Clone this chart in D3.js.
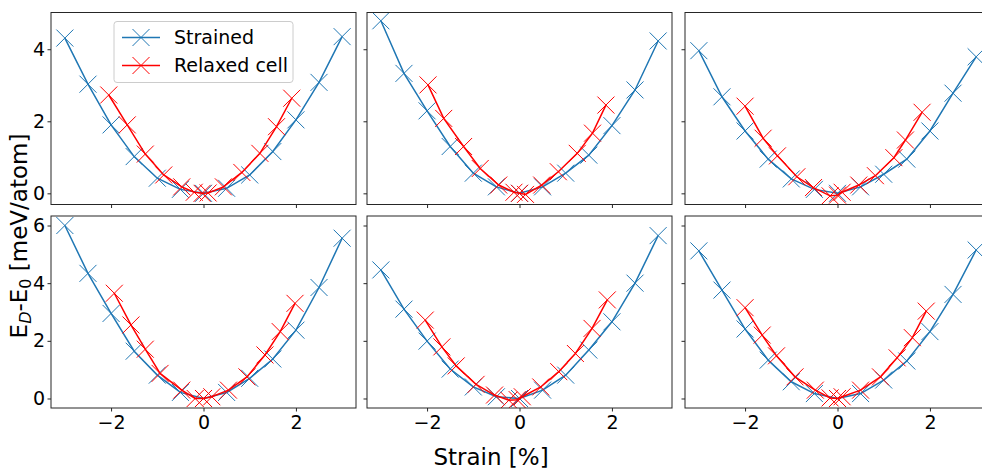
<!DOCTYPE html>
<html lang="en">
<meta charset="utf-8">
<title>Strain energy</title>
<style>
    body { margin: 0; background: white; }
    svg  { display: block; font-family: "DejaVu Sans", sans-serif; }
</style>
<body>
<svg id="canvas"></svg>
<script src="https://cdn.jsdelivr.net/npm/d3@7"></script>
<script>

    ////////////////////// Data ///////////////////////
    var strain_x = [-3, -2.5, -2, -1.5, -1, -0.5, 0, 0.5, 1, 1.5, 2, 2.5, 3];

    var strained_1 = [4.31, 3.03, 1.90, 1.02, 0.42, 0.11, 0, 0.14, 0.51, 1.16, 2.04, 3.08, 4.35];
    var strained_2 = [4.79, 3.33, 2.29, 1.30, 0.56, 0.18, 0, 0.18, 0.56, 1.06, 1.88, 2.87, 4.23];
    var strained_3 = [3.96, 2.68, 1.73, 0.95, 0.40, 0.11, 0, 0.18, 0.53, 0.95, 1.73, 2.78, 3.79];
    var strained_4 = [6.00, 4.34, 2.95, 1.64, 0.81, 0.21, 0, 0.21, 0.70, 1.37, 2.37, 3.85, 5.56];
    var strained_5 = [4.46, 3.10, 1.99, 1.02, 0.40, 0.06, 0, 0.29, 0.81, 1.68, 2.66, 4.00, 5.65];
    var strained_6 = [5.12, 3.76, 2.41, 1.33, 0.58, 0.17, 0, 0.17, 0.64, 1.30, 2.32, 3.61, 5.15];

    var relaxed_x_1 = [-2.05, -1.65, -1.26, -0.86, -0.47, -0.20, -0.03, 0.10, 0.43, 0.83, 1.22, 1.58, 1.91];
    var relaxed_y_1 = [2.73, 1.90, 1.09, 0.51, 0.18, 0.03, 0.00, 0.01, 0.18, 0.58, 1.11, 1.85, 2.64];
    var relaxed_x_2 = [-1.98, -1.64, -1.21, -0.85, -0.45, -0.12, 0.00, 0.13, 0.48, 0.84, 1.25, 1.58, 1.87];
    var relaxed_y_2 = [3.01, 2.08, 1.30, 0.69, 0.23, 0.03, 0.00, -0.03, 0.23, 0.60, 1.11, 1.67, 2.45];
    var relaxed_x_3 = [-2.00, -1.61, -1.30, -0.88, -0.52, -0.16, 0.00, 0.10, 0.46, 0.82, 1.22, 1.47, 1.83];
    var relaxed_y_3 = [2.42, 1.53, 1.04, 0.46, 0.16, -0.07, -0.05, 0.03, 0.23, 0.49, 0.99, 1.48, 2.25];
    var relaxed_x_4 = [-1.93, -1.57, -1.26, -0.94, -0.47, -0.18, 0.00, 0.18, 0.54, 0.94, 1.33, 1.66, 1.98];
    var relaxed_y_4 = [3.65, 2.55, 1.71, 0.87, 0.29, 0.00, 0.00, 0.06, 0.29, 0.75, 1.51, 2.32, 3.30];
    var relaxed_x_5 = [-2.04, -1.68, -1.37, -0.94, -0.54, -0.23, -0.05, 0.06, 0.46, 0.85, 1.21, 1.57, 1.90];
    var relaxed_y_5 = [2.72, 1.79, 1.13, 0.49, 0.12, -0.06, -0.04, 0.06, 0.40, 0.93, 1.56, 2.43, 3.42];
    var relaxed_x_6 = [-2.00, -1.63, -1.32, -0.92, -0.48, -0.16, 0.00, 0.10, 0.50, 0.93, 1.29, 1.62, 1.92];
    var relaxed_y_6 = [3.15, 2.20, 1.48, 0.75, 0.29, 0.02, 0.00, 0.06, 0.29, 0.75, 1.41, 2.11, 3.03];

    var x_ticks     = [-2, 0, 2];
    var y_ticks_top = [0, 2, 4];
    var y_ticks_bot = [0, 2, 4, 6];
    var legend_text = ["Strained", "Relaxed cell"];
    ///////////////////////////////////////////////////

    ///////// Position and Dimension Variables ////////
    var dimensions = [982, 471];
    var col_x      = [51, 367, 685];
    var col_w      = 305;
    var row_y      = [12.5, 216];
    var row_h      = 192;
    var x_domain   = [-3.3, 3.3];
    var y_dom_top  = [-0.31, 5.02];
    var y_dom_bot  = [-0.33, 6.33];
    var tick_len   = 3.5;
    var mark_r     = 8.5;
    ///////////////////////////////////////////////////

    ///////////////// Style Variables /////////////////
    var blue        = '#1f77b4';
    var red         = '#ff0000';
    var spine_color = '#262626';
    var tick_font   = 19;
    var label_font  = 23;
    ///////////////////////////////////////////////////

    var canvas = d3.select("#canvas")
        .attr('width',  dimensions[0])
        .attr('height', dimensions[1]);

    var panels = [
        { row: 0, col: 0, s: strained_1, rx: relaxed_x_1, ry: relaxed_y_1 },
        { row: 0, col: 1, s: strained_2, rx: relaxed_x_2, ry: relaxed_y_2 },
        { row: 0, col: 2, s: strained_3, rx: relaxed_x_3, ry: relaxed_y_3 },
        { row: 1, col: 0, s: strained_4, rx: relaxed_x_4, ry: relaxed_y_4 },
        { row: 1, col: 1, s: strained_5, rx: relaxed_x_5, ry: relaxed_y_5 },
        { row: 1, col: 2, s: strained_6, rx: relaxed_x_6, ry: relaxed_y_6 }
    ];

    function crosses(sel, pts, x, y, color) {
        var r = mark_r;
        sel.selectAll(null)
            .data(pts)
            .enter().append("path")
            .attr('d', function (d) {
                var cx = x(d[0]), cy = y(d[1]);
                return "M" + (cx - r) + "," + (cy - r) + "L" + (cx + r) + "," + (cy + r) +
                       "M" + (cx - r) + "," + (cy + r) + "L" + (cx + r) + "," + (cy - r);
            })
            .attr('stroke', color)
            .attr('stroke-width', 1)
            .attr('fill', 'none');
    }

    function fmt(d) { return d < 0 ? "\u2212" + Math.abs(d) : String(d); }

    panels.forEach(function (p, i) {
        var x0 = col_x[p.col], y0 = row_y[p.row];
        var x = d3.scaleLinear().domain(x_domain).range([0, col_w]);
        var y = d3.scaleLinear().domain(p.row === 0 ? y_dom_top : y_dom_bot).range([row_h, 0]);

        var g = canvas.append("g").attr('transform', 'translate(' + x0 + ',' + y0 + ')');

        g.append("clipPath").attr('id', 'clip' + i)
            .append("rect").attr('width', col_w).attr('height', row_h);

        var plot = g.append("g").attr('clip-path', 'url(#clip' + i + ')');
        var line = d3.line().x(function (d) { return x(d[0]); }).y(function (d) { return y(d[1]); });

        var sPts = strain_x.map(function (v, k) { return [v, p.s[k]]; });
        var rPts = p.rx.map(function (v, k) { return [v, p.ry[k]]; });

        plot.append("path").datum(sPts).attr('d', line)
            .attr('fill', 'none').attr('stroke', blue).attr('stroke-width', 1.5);
        crosses(plot, sPts, x, y, blue);
        plot.append("path").datum(rPts).attr('d', line)
            .attr('fill', 'none').attr('stroke', red).attr('stroke-width', 1.5);
        crosses(plot, rPts, x, y, red);

        // axes
        var xAxis = d3.axisBottom(x).tickValues(x_ticks).tickSize(tick_len).tickPadding(4)
            .tickFormat(p.row === 1 ? fmt : function () { return ""; });
        var gx = g.append("g").attr('transform', 'translate(0,' + row_h + ')').call(xAxis);
        var yAxis = d3.axisLeft(y).tickValues(p.row === 0 ? y_ticks_top : y_ticks_bot)
            .tickSize(tick_len).tickPadding(2.5)
            .tickFormat(p.col === 0 ? fmt : function () { return ""; });
        var gy = g.append("g").call(yAxis);
        [gx, gy].forEach(function (a) {
            a.select(".domain").remove();
            a.selectAll("line").attr('stroke', spine_color);
            a.selectAll("text").attr('font-size', tick_font)
                .attr('font-family', '"DejaVu Sans", sans-serif').attr('fill', 'black');
        });

        g.append("rect")
            .attr('width', col_w).attr('height', row_h)
            .attr('fill', 'none').attr('stroke', spine_color).attr('stroke-width', 1);

        // legend in first panel
        if (i === 0) {
            var lg = g.append("g").attr('transform', 'translate(63,9)');
            lg.append("rect")
                .attr('width', 179).attr('height', 61).attr('rx', 3)
                .attr('fill', 'white').attr('fill-opacity', 0.8)
                .attr('stroke', '#cccccc').attr('stroke-width', 1);
            [blue, red].forEach(function (c, k) {
                var ly = 16 + k * 28;
                lg.append("line").attr('x1', 8).attr('x2', 46).attr('y1', ly).attr('y2', ly)
                    .attr('stroke', c).attr('stroke-width', 1.5);
                crosses(lg, [[27, ly]], function (v) { return v; }, function (v) { return v; }, c);
                lg.append("text").attr('x', 60).attr('y', ly)
                    .attr('dy', '0.35em')
                    .attr('font-size', tick_font)
                    .text(legend_text[k]);
            });
        }
    });

    ///////////////////// labels //////////////////////
    canvas.append("text")
        .attr('x', 491).attr('y', 465)
        .attr('text-anchor', 'middle')
        .attr('font-size', label_font)
        .text("Strain [%]");

    var ylab = canvas.append("text")
        .attr('transform', 'translate(27,236) rotate(-90)')
        .attr('text-anchor', 'middle')
        .attr('font-size', label_font);
    ylab.append("tspan").text("E");
    ylab.append("tspan").attr('font-size', 16).attr('font-style', 'italic').attr('dy', 4).text("D");
    ylab.append("tspan").attr('dy', -4).text("-E");
    ylab.append("tspan").attr('font-size', 16).attr('dy', 4).text("0");
    ylab.append("tspan").attr('dy', -4).text(" [meV/atom]");
    ///////////////////////////////////////////////////

</script>
</body>
</html>
